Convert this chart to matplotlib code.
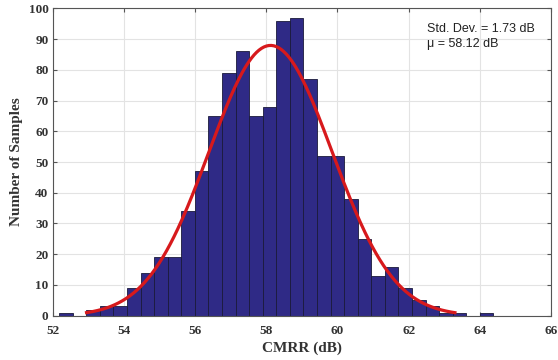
import numpy as np
import matplotlib
matplotlib.use("Agg")
import matplotlib.pyplot as plt

# Histogram data
bin_start = 52.18
bin_end = 64.38
counts = [1, 0, 2, 3, 3, 9, 14, 19, 19, 34, 47, 65, 79, 86, 65, 68,
          96, 97, 77, 52, 52, 38, 25, 13, 16, 9, 5, 3, 1, 1, 0, 1]
mu = 58.12
sigma = 1.73
n_samples = 1000
fit_start = 52.95
fit_end = 63.3

edges = np.linspace(bin_start, bin_end, len(counts) + 1)
width = edges[1] - edges[0]

fig = plt.figure(figsize=(5.58, 3.6), dpi=100)
ax = fig.add_axes([0.0945, 0.123, 0.893, 0.854])

ax.bar(edges[:-1], counts, width=width, align='edge', color='#2f2a86',
       edgecolor='#1a1a3a', linewidth=0.6, zorder=2)

xf = np.linspace(fit_start, fit_end, 300)
yf = n_samples * width / (sigma * np.sqrt(2 * np.pi)) * np.exp(-0.5 * ((xf - mu) / sigma) ** 2)
ax.plot(xf, yf, color='#d7191c', linewidth=2.3, zorder=3)

ax.set_xlim(52, 66)
ax.set_ylim(0, 100)
ax.set_xticks(np.arange(52, 67, 2))
ax.set_yticks(np.arange(0, 101, 10))
ax.grid(True, color='#e3e3e3', linewidth=0.8, zorder=0)
ax.set_axisbelow(True)
ax.tick_params(direction='in', length=3, top=True, right=True, color='#555555',
               labelsize=9.5)
ax.tick_params(axis='x', pad=7)
ax.tick_params(axis='y', pad=3)
for lab in ax.get_xticklabels() + ax.get_yticklabels():
    lab.set_family('Liberation Serif')
    lab.set_fontweight('bold')
    lab.set_color('#333333')
for s in ax.spines.values():
    s.set_color('#555555')
    s.set_linewidth(0.8)

ax.set_xlabel('CMRR (dB)', family='Liberation Serif', fontweight='bold',
              fontsize=11, color='#333333', labelpad=3)
ax.set_ylabel('Number of Samples', family='Liberation Serif', fontweight='bold',
              fontsize=11, color='#333333', labelpad=4)

ax.text(0.751, 0.934, 'Std. Dev. = %.2f dB' % sigma,
        transform=ax.transAxes, family='Liberation Sans', fontsize=9,
        va='center', ha='left', color='#222222')
ax.text(0.751, 0.884, '\u03bc = %.2f dB' % mu,
        transform=ax.transAxes, family='Liberation Sans', fontsize=9,
        va='center', ha='left', color='#222222')

fig.savefig('out.png', dpi=100)
